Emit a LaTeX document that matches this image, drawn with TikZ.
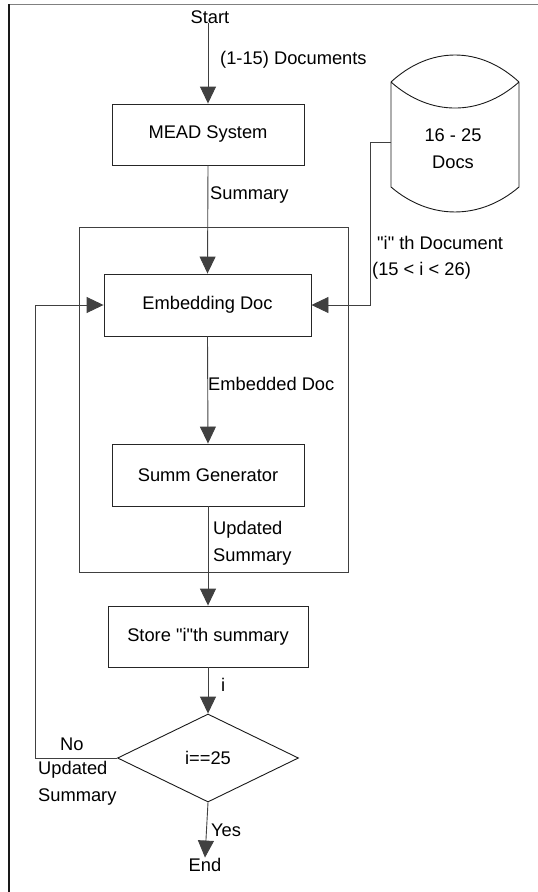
\documentclass[tikz,border=0pt]{standalone}
\usepackage{fontspec}
\setmainfont{Liberation Sans}
\usetikzlibrary{shapes.geometric,arrows.meta}
\begin{document}
\begin{tikzpicture}[x=1pt,y=-1pt,
  every node/.style={font=\fontsize{18.3}{27}\selectfont},
  box/.style={draw=black!85,line width=0.9pt,rectangle,inner sep=0pt},
  lbl/.style={anchor=base west,inner sep=0pt},
  conn/.style={draw=black!75,line width=0.9pt},
  arr/.style={conn,-{Triangle[length=17pt,width=16pt]}}]
\useasboundingbox (0,0) rectangle (538,892);
% frame
\draw[black!50,line width=1pt] (9,4) -- (538,4);
\draw[black!90,line width=1.3pt] (9,4) -- (9,892);
% container
\node[draw=black!75,line width=0.9pt,rectangle,minimum width=269pt,minimum height=345pt,inner sep=0pt] (loop) at (213.5,399.5) {};
% nodes
\node[inner sep=0pt,anchor=base] (start) at (210,23) {Start};
\node[box,minimum width=192pt,minimum height=61pt] (mead) at (208,134.5) {MEAD System};
\node[box,minimum width=207pt,minimum height=62pt] (emb) at (207.5,305) {Embedding Doc};
\node[box,minimum width=192pt,minimum height=62pt] (gen) at (208,475) {Summ Generator};
\node[box,minimum width=200pt,minimum height=61pt] (store) at (208,636.5) {Store \textquotedbl i\textquotedbl th summary};
\node[diamond,draw=black!90,line width=0.9pt,minimum width=181pt,minimum height=88pt,inner sep=0pt,aspect=2] (dia) at (208,758) {i==25};
\node[inner sep=0pt,anchor=base] (end) at (205,871) {End};
% cylinder
\node[inner sep=0pt] (db) at (453,148) {};
\node[lbl,anchor=base] at (453,141.7) {16 - 25};
\node[lbl,anchor=base] at (453,168) {Docs};
\draw[black!90,line width=0.9pt] (391,82) .. controls (430,46) and (480,46) .. (519,82)
  (391,82) .. controls (430,116.7) and (480,116.7) .. (519,82)
  (391,82) -- (391,187) .. controls (430,220.3) and (480,220.3) .. (519,187) -- (519,82);
\coordinate (dbl) at (391,142);
% connectors
\draw[arr] (mead.north |- start.south) -- (mead.north);
\draw[arr] (mead.south) -- (emb.north);
\draw[arr] (emb.south) -- (gen.north);
\draw[arr] (gen.south) -- (store.north);
\draw[arr] (store.south) -- (dia.north);
\draw[arr] (dia.south) -- (end.north);
\draw[arr] (dia.west) -- (35,758) -- (35,305) -- (emb.west);
\draw[arr] (dbl) -- (370,142) -- (370,305) -- (emb.east);
% labels
\node[lbl] at (220,64.3) {(1-15) Documents};
\node[lbl] at (210,199) {Summary};
\node[lbl] at (377,249) {\textquotedbl i\textquotedbl{} th Document};
\node[lbl] at (372,275) {(15 < i < 26)};
\node[lbl] at (208,390) {Embedded Doc};
\node[lbl] at (213,534) {Updated};
\node[lbl] at (213,561) {Summary};
\node[lbl] at (221,691.7) {i};
\node[lbl] at (60,750) {No};
\node[lbl] at (38,774) {Updated};
\node[lbl] at (38,801.7) {Summary};
\node[lbl] at (211,836.7) {Yes};
\end{tikzpicture}
\end{document}
